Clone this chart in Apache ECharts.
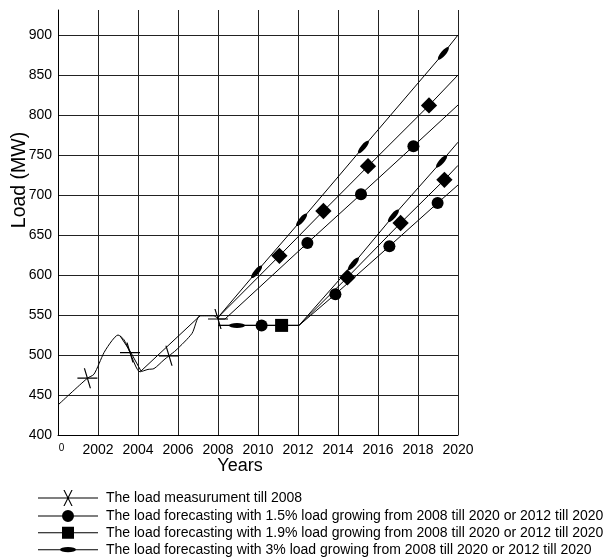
<!DOCTYPE html>
<html>
<head>
<meta charset="utf-8">
<script src="https://cdn.jsdelivr.net/npm/echarts@6/dist/echarts.min.js"></script>
<style>
html,body{margin:0;padding:0;background:#fff;}
#chart{width:610px;height:559px;}
</style>
</head>
<body>
<div id="chart"></div>
<script>
// ---------- data ----------
const xTickYears = [2000, 2002, 2004, 2006, 2008, 2010, 2012, 2014, 2016, 2018, 2020];

// measured load (MW)
const measYears  = [2000, 2001.47, 2001.8, 2002.3, 2002.7, 2003.0, 2003.3, 2003.6, 2004.1, 2004.5, 2004.8, 2005.3, 2005.55, 2005.9, 2006.7, 2007.1, 2007.8, 2008.0];
const measValues = [437.5, 471, 476, 503, 518, 525, 519, 503, 479, 482, 483, 494, 499, 506, 527, 549, 549, 545];
const measMarked = [0, 1, 0, 0, 0, 0, 0, 1, 0, 0, 0, 0, 1, 0, 0, 0, 0, 1];
// second measured trace
const meas2Years  = [2003.1, 2003.6, 2004.15, 2007.1];
const meas2Values = [524, 505, 480, 549];

// forecasts growing from 2008
const g08Years3  = [2008, 2009.93, 2012.18, 2015.27, 2019.27, 2020];
const g08Vals3   = [547, 604, 669, 760, 877, 900];
const g08Mark3   = [0, 1, 1, 1, 1, 0];
const g08Years19 = [2008, 2011.07, 2013.27, 2015.5, 2018.55, 2020];
const g08Vals19  = [547, 624, 680, 736, 812, 850];
const g08Mark19  = [0, 1, 1, 1, 1, 0];
const g08Years15 = [2008, 2008.35, 2012.47, 2015.15, 2017.77, 2020];
const g08Vals15  = [545, 545, 640, 701, 761, 812.5];
const g08Mark15  = [0, 0, 1, 1, 1, 0];

// forecasts flat till 2012, then growing
const g12Years3  = [2008, 2008.95, 2012.05, 2014.77, 2016.77, 2019.18, 2020];
const g12Vals3   = [537, 537, 537, 614, 674, 742, 766];
const g12Mark3   = [0, 1, 0, 1, 1, 1, 0];
const g12Years19 = [2008, 2011.18, 2012.05, 2014.47, 2017.13, 2019.32, 2020];
const g12Vals19  = [537, 537, 537, 597, 665, 719, 737];
const g12Mark19  = [0, 1, 0, 1, 1, 1, 0];
const g12Years15 = [2008, 2010.18, 2012.05, 2013.87, 2016.57, 2018.98, 2020];
const g12Vals15  = [537, 537, 537, 576, 636, 690, 712.5];
const g12Mark15  = [0, 1, 0, 1, 1, 1, 0];

const names = [
  'The load measurument till 2008',
  'The load forecasting with 1.5% load growing from 2008 till 2020 or 2012 till 2020',
  'The load forecasting with 1.9% load growing from 2008 till 2020 or 2012 till 2020',
  'The load forecasting with 3% load growing from 2008 till 2020 or 2012 till 2020'
];

// ---------- geometry / style ----------
const X_MIN = 2000, X_MAX = 2020, Y_MIN = 400, Y_MAX = 931.25;
const GRID = {left: 58, right: 152, top: 10, bottom: 124, outerBoundsMode: 'none', containLabel: false};
const plotW = 610 - GRID.left - GRID.right;
const plotH = 559 - GRID.top - GRID.bottom;
const pxX = plotW / (X_MAX - X_MIN);
const pxY = plotH / (Y_MAX - Y_MIN);

const crossSym = 'path://M0,9.4L20,9.4L20,10.6L0,10.6Z M6.4,0L7.6,0L13.6,20L12.4,20Z';

function slopeDeg(xs, ys, i) {
  const a = Math.max(0, i - 1), b = Math.min(xs.length - 1, i + 1);
  const dx = (xs[b] - xs[a]) * pxX, dy = (ys[b] - ys[a]) * pxY;
  return Math.atan2(dy, dx) * 180 / Math.PI;
}

function buildData(xs, ys, marks, kind) {
  return xs.map((x, i) => {
    const item = {value: [x, ys[i]]};
    if (!marks[i]) { item.symbol = 'none'; return item; }
    const ang = slopeDeg(xs, ys, i);
    if (kind === 'cross') { item.symbol = crossSym; item.symbolSize = 20; item.symbolRotate = 0; }
    else if (kind === 'circle') { item.symbol = 'circle'; item.symbolSize = 12; }
    else if (kind === 'square') {
      item.symbol = 'rect';
      if (Math.abs(ang) < 1) { item.symbolSize = 13; item.symbolRotate = 0; }
      else { item.symbolSize = 11.5; item.symbolRotate = 45; }
    }
    else if (kind === 'ellipse') { item.symbol = 'circle'; item.symbolSize = [16, 5]; item.symbolRotate = ang; }
    return item;
  });
}

function lineSeries(name, data, z) {
  return {
    name: name, type: 'line', data: data, z: z || 2,
    showSymbol: true, animation: false, silent: true,
    lineStyle: {color: '#000', width: 1},
    itemStyle: {color: '#000', borderWidth: 0},
    emphasis: {disabled: true}
  };
}

// legend icons (60 x 16 box)
const bar = 'M0,7.5L60,7.5L60,8.5L0,8.5Z';
const iconCross = 'path://' + bar + ' M25.4,0L26.6,0L34.6,16L33.4,16Z M33.4,0L34.6,0L26.6,16L25.4,16Z';
const iconCircle = 'path://' + bar + ' M24,8A6,6 0 1,1 36,8A6,6 0 1,1 24,8Z';
const iconSquare = 'path://' + bar + ' M24,2L36,2L36,14L24,14Z';
const iconEllipse = 'path://' + bar + ' M22,8A8,2.6 0 1,1 38,8A8,2.6 0 1,1 22,8Z';

const FONT = 'Liberation Sans, Arial, Helvetica, sans-serif';

const measSeries = lineSeries(names[0], buildData(measYears, measValues, measMarked, 'cross'), 3);
measSeries.smooth = 0.25;

const option = {
  animation: false,
  backgroundColor: '#fff',
  textStyle: {fontFamily: FONT, color: '#000'},
  grid: GRID,
  legend: {
    orient: 'vertical', left: 38, top: 490, height: 80, padding: 0,
    itemWidth: 60, itemHeight: 16, itemGap: 2.9,
    selectedMode: false,
    itemStyle: {color: '#000', borderWidth: 0},
    textStyle: {fontSize: 14, color: '#000', fontFamily: FONT, padding: [0, 0, 0, 3]},
    data: [
      {name: names[0], icon: iconCross},
      {name: names[1], icon: iconCircle},
      {name: names[2], icon: iconSquare},
      {name: names[3], icon: iconEllipse}
    ]
  },
  xAxis: {
    type: 'value', min: X_MIN, max: X_MAX, interval: 2,
    name: 'Years', nameLocation: 'middle', nameGap: 22, nameMoveOverlap: false,
    nameTextStyle: {fontSize: 18, color: '#000', fontFamily: FONT, padding: [0, 36, 0, 0]},
    axisLine: {show: true, lineStyle: {color: '#000', width: 1}},
    axisTick: {show: false},
    axisLabel: {
      fontSize: 14, color: '#000', margin: 8, fontFamily: FONT,
      formatter: v => (v === xTickYears[0] ? '{s|0}' : String(v)),
      rich: {s: {fontSize: 10, padding: [0, 0, 0, 7], fontFamily: FONT, color: '#000'}}
    },
    splitLine: {show: true, lineStyle: {color: '#222', width: 1}}
  },
  yAxis: {
    type: 'value', min: Y_MIN, max: Y_MAX, interval: 50,
    name: 'Load (MW)', nameLocation: 'middle', nameGap: 28, nameMoveOverlap: false,
    nameTextStyle: {fontSize: 19.5, color: '#000', fontFamily: FONT, padding: [0, 0, 0, 85]},
    axisLine: {show: true, lineStyle: {color: '#000', width: 1}},
    axisTick: {show: false},
    axisLabel: {fontSize: 14, color: '#000', margin: 6, fontFamily: FONT, showMaxLabel: false},
    splitLine: {show: true, showMaxLine: false, lineStyle: {color: '#222', width: 1}}
  },
  series: [
    measSeries,
    lineSeries(names[0], meas2Years.map((x, i) => ({value: [x, meas2Values[i]], symbol: 'none'})), 2),
    lineSeries(names[1], buildData(g08Years15, g08Vals15, g08Mark15, 'circle')),
    lineSeries(names[2], buildData(g08Years19, g08Vals19, g08Mark19, 'square')),
    lineSeries(names[3], buildData(g08Years3, g08Vals3, g08Mark3, 'ellipse')),
    lineSeries(names[1], buildData(g12Years15, g12Vals15, g12Mark15, 'circle')),
    lineSeries(names[2], buildData(g12Years19, g12Vals19, g12Mark19, 'square')),
    lineSeries(names[3], buildData(g12Years3, g12Vals3, g12Mark3, 'ellipse'))
  ]
};

const chart = echarts.init(document.getElementById('chart'), null, {renderer: 'canvas'});
chart.setOption(option);
</script>
</body>
</html>
